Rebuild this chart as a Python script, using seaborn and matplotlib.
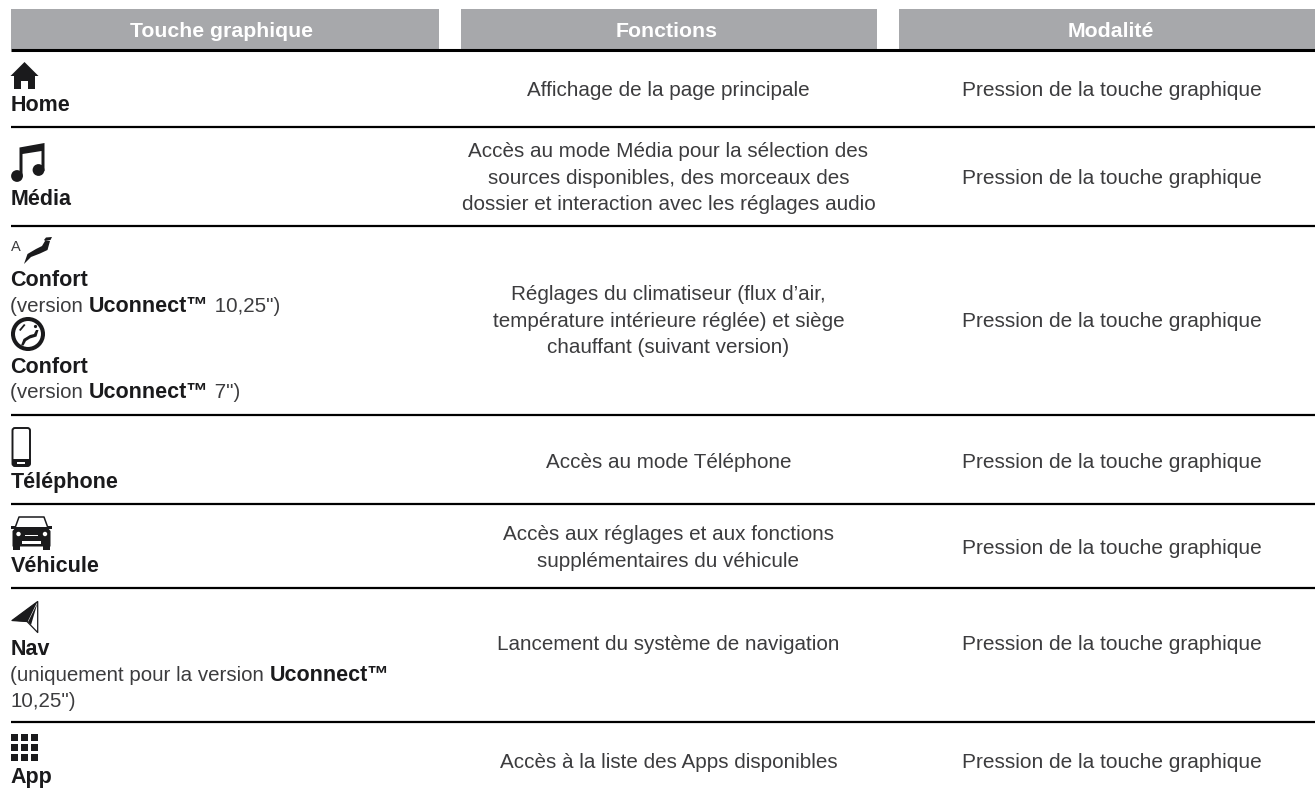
import matplotlib
matplotlib.use("Agg")
import matplotlib.pyplot as plt
from matplotlib.patches import Polygon, Circle, Rectangle, FancyBboxPatch
import pandas as pd
import seaborn as sns

# ---- content ----
headers = ["Touche graphique", "Fonctions", "Modalité"]
functions = [
    ["Affichage de la page principale"],
    ["Accès au mode Média pour la sélection des",
     "sources disponibles, des morceaux des",
     "dossier et interaction avec les réglages audio"],
    ["Réglages du climatiseur (flux d’air,",
     "température intérieure réglée) et siège",
     "chauffant (suivant version)"],
    ["Accès au mode Téléphone"],
    ["Accès aux réglages et aux fonctions",
     "supplémentaires du véhicule"],
    ["Lancement du système de navigation"],
    ["Accès à la liste des Apps disponibles"],
]
modality = "Pression de la touche graphique"
key_lines = [
    (111, [("Home", True)]),
    (205, [("Média", True)]),
    (286, [("Confort", True)]),
    (312, [("(version ", False), ("Uconnect™", True), (" 10,25\")", False)]),
    (373, [("Confort", True)]),
    (398, [("(version ", False), ("Uconnect™", True), (" 7\")", False)]),
    (488, [("Téléphone", True)]),
    (572, [("Véhicule", True)]),
    (655, [("Nav", True)]),
    (681, [("(uniquement pour la version ", False), ("Uconnect™", True)]),
    (707, [("10,25\")", False)]),
    (783, [("App", True)]),
]

# ---- layout (pixels) ----
W, H = 1315, 797
band_left = [11, 461, 899]
band_right = [439, 877, 1315]
band_top, band_bottom = 9, 49
header_x = [222, 666.5, 1111]
rule_y = [127, 226, 414.5, 504, 588, 721.5]
row_center = [89, 177, 320, 461, 547, 644, 762]
line_gap = 26.3
INK = "#1a1a1c"
BODY = "#3c3c3e"
BAND = "#a7a8ab"
FONT = "Liberation Sans"

sns.set_theme(style="white", rc={"font.family": FONT})
fig = plt.figure(figsize=(W / 100, H / 100), dpi=100, facecolor="white")
ax = fig.add_axes([0, 0, 1, 1])

# header bands and rules
for l, r in zip(band_left, band_right):
    ax.add_patch(Rectangle((l, band_top), r - l, band_bottom - band_top, fc=BAND, ec="none"))
rules = pd.DataFrame({
    "x": [11, W] * (len(rule_y) + 1),
    "y": [y for v in [49.5] + rule_y for y in (v, v)],
    "rule": [i for i in range(len(rule_y) + 1) for _ in (0, 1)],
    "thick": [i == 0 for i in range(len(rule_y) + 1) for _ in (0, 1)],
})
sns.lineplot(data=rules, x="x", y="y", units="rule", estimator=None, size="thick",
             sizes={True: 2.2, False: 1.6}, color="black", legend=False, ax=ax,
             solid_capstyle="butt")
ax.set_xlim(0, W)
ax.set_ylim(H, 0)
ax.axis("off")

# header text
for x, t in zip(header_x, headers):
    ax.text(x, 36.5, t, color="white", fontsize=15.3, fontweight="bold", ha="center", va="baseline")

# body text
for yc, lines in zip(row_center, functions):
    y0 = yc + 6.5 - line_gap * (len(lines) - 1) / 2
    for i, t in enumerate(lines):
        ax.text(668.5, y0 + i * line_gap, t, color=BODY, fontsize=14.85, ha="center", va="baseline")
    ax.text(1112, yc + 6.5, modality, color=BODY, fontsize=15, ha="center", va="baseline")

# first column with mixed weights
fig.canvas.draw()
rend = fig.canvas.get_renderer()
for base, runs in key_lines:
    x = 10.5
    for s, bold in runs:
        kw = dict(fontsize=15.5, fontweight="bold", color=INK) if bold else dict(fontsize=14.8, color=BODY)
        probe = ax.text(x, base, "x" + s + "x", va="baseline", **kw)
        w = probe.get_window_extent(rend).width
        probe.set_text("xx")
        w -= probe.get_window_extent(rend).width
        probe.set_text(s)
        x += w

# ---- icons ----
def poly(pts, fc=INK, ec="none", lw=0, z=3):
    ax.add_patch(Polygon(pts, closed=True, fc=fc, ec=ec, lw=lw, zorder=z, joinstyle="round"))

def rect(x, y, w, h, fc=INK, z=3):
    ax.add_patch(Rectangle((x, y), w, h, fc=fc, ec="none", zorder=z))

# home
poly([(24.5, 62), (38.5, 76), (35, 76), (35, 89), (28, 89), (28, 81), (21, 81), (21, 89),
      (14, 89), (14, 76), (10.5, 76)])
# music
ax.add_patch(Circle((17, 176), 5.9, fc=INK, ec="none", zorder=3))
ax.add_patch(Circle((38.5, 170), 5.9, fc=INK, ec="none", zorder=3))
poly([(19.5, 147.5), (44.5, 143), (44.5, 171), (41.5, 171), (41.5, 151), (22.5, 154), (22.5, 177), (19.5, 177)])
# seat + A
ax.text(11, 250.5, "A", fontsize=10.5, color=BODY, va="baseline")
poly([(24, 264), (27.5, 254), (36, 249), (42, 246), (45, 241), (50, 241), (47.5, 250), (40, 253.5), (31, 257)])
poly([(44, 240), (46, 237.5), (52, 237), (50.5, 240), (45.5, 241)])
# circled seat
ax.add_patch(Circle((28, 334), 15, fc="none", ec=INK, lw=2.9, zorder=3))
poly([(21, 345.5), (23.5, 339), (30, 335), (34, 334), (36, 330), (38.5, 330), (36.5, 336.5), (30, 338.5),
      (26, 341), (23.5, 345.5)])
ax.add_patch(Circle((35.5, 326.5), 1.6, fc=INK, ec="none", zorder=3))
poly([(19, 330), (24, 324), (25.5, 325), (20.5, 331)])
# phone
ax.add_patch(FancyBboxPatch((12.5, 428), 17.5, 38, boxstyle="round,pad=0,rounding_size=2.5",
                            fc="white", ec=INK, lw=1.4, zorder=3))
poly([(12, 459), (30.5, 459), (30.5, 464), (28, 466.5), (14, 466.5), (12, 464)], z=4)
rect(17.5, 461.5, 7.5, 2.6, fc="white", z=5)
# car
poly([(19, 517), (44, 517), (48, 528), (15, 528)], fc="white", ec=INK, lw=1.1)
poly([(16, 527), (47, 527), (50.5, 531), (50.5, 546.5), (12.5, 546.5), (12.5, 531)], z=4)
rect(13, 545, 7.5, 5, z=4)
rect(43, 545, 7.5, 5, z=4)
poly([(11, 526), (16, 526), (16, 528.5), (11, 528.5)], z=4)
poly([(47, 526), (52, 526), (52, 528.5), (47, 528.5)], z=4)
ax.add_patch(Circle((18.5, 534), 2.2, fc="white", ec="none", zorder=5))
ax.add_patch(Circle((45, 534), 2.2, fc="white", ec="none", zorder=5))
rect(25, 534.5, 13, 1.2, fc="white", z=5)
rect(22, 541, 19, 3.2, fc="white", z=5)
# nav arrow
poly([(37.7, 601.5), (37.7, 632.5), (27, 621.5), (12, 620.5)], fc="white", ec=INK, lw=0.9)
poly([(37.5, 601.5), (27.5, 622), (12, 620.5)], z=4)
poly([(37.5, 603), (31, 625), (28, 622)], z=4)
# app grid
for gy in (734, 744, 754):
    for gx in (11, 21, 31):
        rect(gx, gy, 7, 7)

fig.savefig("out.png", dpi=100, facecolor="white")
